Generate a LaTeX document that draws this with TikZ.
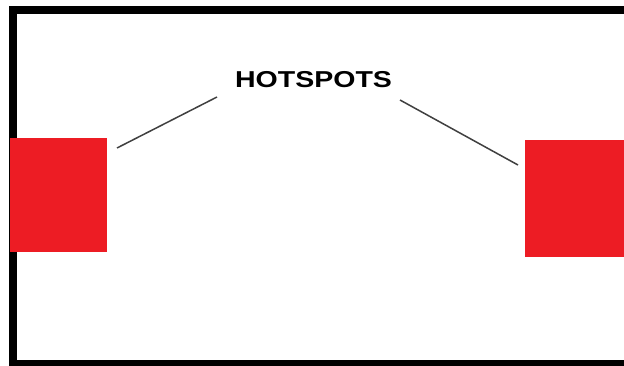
\documentclass[tikz,border=0pt]{standalone}
\usepackage{fontspec}
\setmainfont{Liberation Sans}
\definecolor{vermelho}{HTML}{ED1C24}
\tikzset{
  moldura/.style={black, line width=8pt},
  quente/.style={rectangle, fill=vermelho, inner sep=0pt, anchor=north west},
  rotulo/.style={font=\bfseries\fontsize{23}{26}\selectfont, xscale=1.24, inner sep=0pt},
  ligacao/.style={black!75, line width=1.5pt},
}

\begin{document}
\begin{tikzpicture}[x=1pt, y=-1pt]

  % ---------------- area da imagem ----------------
  \clip (0,0) rectangle (624,366);
  \fill[white] (0,0) rectangle (624,366);
  \draw[moldura] (13,10) rectangle (660,364);

  % ---------------- zonas quentes ----------------
  \node[quente, minimum width=97pt, minimum height=114pt] (esq) at (10,138) {};
  \node[quente, minimum width=110pt, minimum height=117pt] (dir) at (525,140) {};

  % ---------------- rotulo ----------------
  \node[rotulo] (hot) at (313.5,80) {HOTSPOTS};

  \coordinate (pe) at (117,148);
  \coordinate (qe) at (217,97);
  \coordinate (pd) at (518,165);
  \coordinate (qd) at (400,100);
  \draw[ligacao] (pe) -- (qe);
  \draw[ligacao] (qd) -- (pd);
\end{tikzpicture}
\end{document}
